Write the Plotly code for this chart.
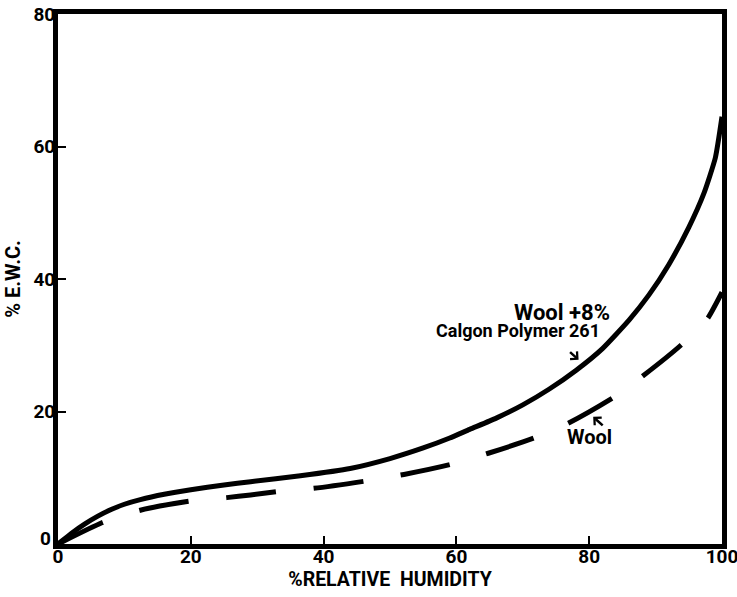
import plotly.graph_objects as go

# Wool + 8% Calgon Polymer 261 (solid)
rh_treated = [0, 2, 4, 6, 8, 10, 12.4, 16, 20, 25, 29, 36.5, 44, 50, 55, 59, 62, 66, 70, 74, 78, 82, 86, 89, 92, 95, 97.3, 99, 100]
ewc_treated = [0, 1.6, 3.0, 4.2, 5.2, 6.0, 6.7, 7.5, 8.2, 8.9, 9.4, 10.3, 11.4, 12.9, 14.5, 16.0, 17.3, 19.0, 21.0, 23.4, 26.2, 29.5, 33.8, 37.6, 42.2, 47.8, 53.0, 58.3, 64.5]

# Wool (dashed)
rh_wool = [0, 6.6, 12.4, 20, 25.4, 29, 33, 38.5, 46.3, 52.1, 59.1, 64.8, 71.7, 76.8, 83.8, 88, 93.8, 97.8, 100]
ewc_wool = [0, 3.2, 5.1, 6.5, 7.0, 7.4, 7.9, 8.4, 9.5, 10.5, 12.0, 13.7, 16.0, 18.2, 22.2, 25.3, 30.0, 34.0, 38.0]

x_ticks = [0, 20, 40, 60, 80, 100]
y_ticks = [0, 20, 40, 60, 80]
# the y "0" label sits slightly raised in the original, so it is drawn as a text note
y_ticktext = ["" if v == 0 else str(v) for v in y_ticks]

FONT = "Roboto, Liberation Sans, sans-serif"

fig = go.Figure()
fig.add_trace(go.Scatter(x=rh_treated, y=ewc_treated, mode="lines",
                         line=dict(color="black", width=5, shape="spline", smoothing=0.5),
                         showlegend=False, hoverinfo="skip"))
fig.add_trace(go.Scatter(x=rh_wool, y=ewc_wool, mode="lines",
                         line=dict(color="black", width=5, dash="50px,38px", shape="spline", smoothing=0.5),
                         showlegend=False, hoverinfo="skip"))

axis_common = dict(showline=True, linewidth=5, linecolor="black", mirror=True,
                   showgrid=False, zeroline=False, ticks="inside", ticklen=8,
                   tickwidth=1.5, tickcolor="black", ticklabeloverflow="allow",
                   automargin=False,
                   tickfont=dict(family=FONT, size=19, color="black", weight="bold"))

fig.update_xaxes(range=[0, 100], tickvals=x_ticks, ticktext=[str(v) for v in x_ticks],
                 ticklabelstandoff=-9,
                 title=dict(text="%RELATIVE  HUMIDITY", standoff=4,
                            font=dict(family=FONT, size=19.5, color="black", weight="bold")),
                 **axis_common)
fig.update_yaxes(range=[0, 80], tickvals=y_ticks, ticktext=y_ticktext,
                 ticklabelstandoff=-6,
                 title=dict(text="% E.W.C.", standoff=9,
                            font=dict(family=FONT, size=20, color="black", weight="bold")),
                 **axis_common)

ann_font = dict(family=FONT, color="black", weight="bold")
fig.add_annotation(xref="paper", x=-0.007, y=0.9, text=str(y_ticks[0]), showarrow=False,
                   xanchor="right", yanchor="middle", font=dict(size=19, **ann_font))
fig.add_annotation(x=83.5, y=34.9, text="Wool +8%", showarrow=False, xanchor="right",
                   yanchor="middle", font=dict(size=22, **ann_font))
fig.add_annotation(x=82.0, y=32.2, text="Calgon Polymer 261", showarrow=False, xanchor="right",
                   yanchor="middle", font=dict(size=18, **ann_font))
fig.add_annotation(x=80.0, y=16.1, text="Wool", showarrow=False, xanchor="center",
                   yanchor="middle", font=dict(size=20, **ann_font))
fig.add_annotation(x=78.4, y=27.8, ax=-10, ay=-9, text="", showarrow=True,
                   arrowhead=4, arrowsize=0.8, arrowwidth=2.5, arrowcolor="black")
fig.add_annotation(x=80.6, y=19.2, ax=11, ay=10, text="", showarrow=True,
                   arrowhead=4, arrowsize=0.8, arrowwidth=2.5, arrowcolor="black")

fig.update_layout(width=737, height=597, margin=dict(l=58, r=15, t=14, b=53),
                  paper_bgcolor="white", plot_bgcolor="white")

fig.write_html("out.html")
